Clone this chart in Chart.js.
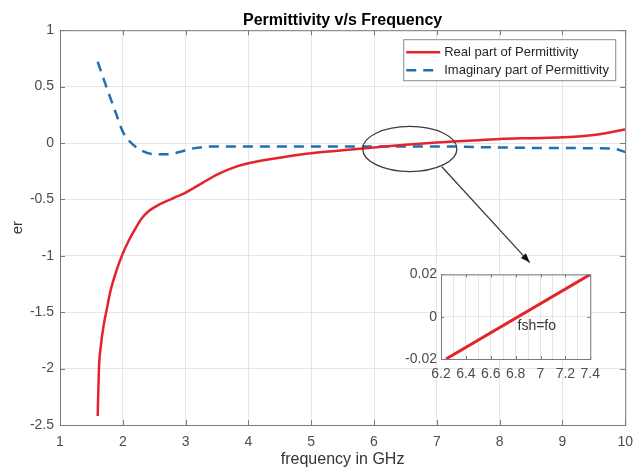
<!DOCTYPE html>
<html>
<head>
<meta charset="utf-8">
<script src="https://cdn.jsdelivr.net/npm/chart.js@4/dist/chart.umd.min.js"></script>
<style>
  html, body { margin:0; padding:0; background:#fff; }
  #wrap { position:relative; width:633px; height:469px; }
  #main { position:absolute; left:0; top:0; }
  #inset { position:absolute; left:385px; top:262px; }
</style>
</head>
<body>
<div id="wrap">
  <canvas id="main" width="633" height="469"></canvas>
  <canvas id="inset" width="215" height="125"></canvas>
</div>
<script>
// data
const realFreq = [1.6, 1.62, 1.65, 1.7, 1.75, 1.8, 1.9, 2.0, 2.1, 2.2, 2.3, 2.4, 2.6, 2.8, 3.0, 3.25, 3.5, 3.75, 4.0, 4.5, 5.0, 5.5, 6.0, 6.5, 7.0, 7.5, 8.0, 8.5, 9.0, 9.5, 10.0];
const realVals = [-2.42, -2.0, -1.8, -1.6, -1.46, -1.32, -1.13, -0.98, -0.86, -0.76, -0.67, -0.61, -0.54, -0.49, -0.44, -0.36, -0.28, -0.22, -0.18, -0.13, -0.09, -0.065, -0.04, -0.015, 0.005, 0.02, 0.035, 0.043, 0.05, 0.07, 0.12];
const imagFreq = [1.6, 1.75, 1.88, 2.0, 2.1, 2.25, 2.5, 2.7, 2.9, 3.1, 3.5, 4.0, 5.0, 6.0, 7.0, 8.0, 9.0, 9.8, 10.0];
const imagVals = [0.72, 0.48, 0.28, 0.1, 0.02, -0.05, -0.1, -0.1, -0.08, -0.05, -0.03, -0.03, -0.03, -0.03, -0.03, -0.04, -0.045, -0.05, -0.08];
const insetFreq = [6.24, 7.4];
const insetVals = [-0.02, 0.02];
const seriesNames = ['Real part of Permittivity', 'Imaginary part of Permittivity'];

const FONT = '"Liberation Sans", Arial, sans-serif';
const RED = '#e3242b', BLUE = '#1f6fb5';
const toXY = (xs, ys) => xs.map((x, i) => ({ x, y: ys[i] }));

// axes box with small inward ticks (matlab look)
function drawBox(c, len){
  const {ctx, chartArea:a, scales:{x, y}} = c;
  ctx.save();
  ctx.strokeStyle = '#7a7a7a'; ctx.lineWidth = 1;
  ctx.strokeRect(a.left + 0.5, a.top + 0.5, a.right - a.left, a.bottom - a.top);
  ctx.beginPath();
  x.ticks.forEach((t, i) => {
    if (!t.label) return;
    const px = Math.round(x.getPixelForTick(i)) + 0.5;
    ctx.moveTo(px, a.bottom); ctx.lineTo(px, a.bottom - len);
    ctx.moveTo(px, a.top); ctx.lineTo(px, a.top + len);
  });
  y.ticks.forEach((t, i) => {
    const py = Math.round(y.getPixelForTick(i)) + 0.5;
    ctx.moveTo(a.left, py); ctx.lineTo(a.left + len, py);
    ctx.moveTo(a.right, py); ctx.lineTo(a.right - len, py);
  });
  ctx.stroke();
  ctx.restore();
}

// legend, ellipse + arrow on the main axes
const mainDeco = {
  id: 'mainDeco',
  beforeDraw(c){
    const ctx = c.ctx;
    ctx.save(); ctx.fillStyle = '#fff'; ctx.fillRect(0, 0, c.width, c.height); ctx.restore();
  },
  afterDraw(c){
    const {ctx, chartArea:a, scales:{x, y}} = c;
    drawBox(c, 5);
    ctx.save();

    // ellipse around the crossing
    const cx = x.getPixelForValue(6.57), cy = y.getPixelForValue(-0.053);
    const rx = x.getPixelForValue(6.57 + 0.75) - cx, ry = y.getPixelForValue(-0.053 - 0.2) - cy;
    ctx.strokeStyle = '#3c3c3c'; ctx.lineWidth = 1.3;
    ctx.beginPath(); ctx.ellipse(cx, cy, rx, ry, 0, 0, Math.PI * 2); ctx.stroke();

    // arrow to the inset
    const x0 = x.getPixelForValue(7.08), y0 = y.getPixelForValue(-0.21);
    const x1 = x.getPixelForValue(8.48), y1 = y.getPixelForValue(-1.06);
    ctx.beginPath(); ctx.moveTo(x0, y0); ctx.lineTo(x1, y1); ctx.stroke();
    const ang = Math.atan2(y1 - y0, x1 - x0);
    ctx.fillStyle = '#111';
    ctx.beginPath();
    ctx.moveTo(x1, y1);
    ctx.lineTo(x1 - 10 * Math.cos(ang - 0.35), y1 - 10 * Math.sin(ang - 0.35));
    ctx.lineTo(x1 - 10 * Math.cos(ang + 0.35), y1 - 10 * Math.sin(ang + 0.35));
    ctx.closePath(); ctx.fill();

    // legend
    const lw = 212, lh = 41, lx = a.right - lw - 10, ly = a.top + 9;
    ctx.fillStyle = '#fff'; ctx.fillRect(lx, ly, lw, lh);
    ctx.strokeStyle = '#8a8a8a'; ctx.lineWidth = 1;
    ctx.strokeRect(lx + 0.5, ly + 0.5, lw, lh);
    ctx.font = '13px ' + FONT; ctx.fillStyle = '#262626'; ctx.textBaseline = 'middle';
    c.data.datasets.forEach((ds, i) => {
      const ry2 = ly + 13 + i * 18;
      ctx.strokeStyle = ds.borderColor; ctx.lineWidth = 2.5;
      ctx.setLineDash(ds.borderDash || []);
      ctx.beginPath(); ctx.moveTo(lx + 3, ry2); ctx.lineTo(lx + 37, ry2); ctx.stroke();
      ctx.setLineDash([]);
      ctx.fillText(seriesNames[i], lx + 41, ry2);
    });
    ctx.restore();
  }
};

new Chart(document.getElementById('main'), {
  type: 'line',
  data: {
    datasets: [
      { label: seriesNames[0], data: toXY(realFreq, realVals), borderColor: RED, borderWidth: 2.5, pointRadius: 0, tension: 0.4, cubicInterpolationMode: 'monotone' },
      { label: seriesNames[1], data: toXY(imagFreq, imagVals), borderColor: BLUE, borderWidth: 2.5, borderDash: [10, 7], pointRadius: 0, tension: 0.4, cubicInterpolationMode: 'monotone' }
    ]
  },
  options: {
    responsive: false, animation: false, devicePixelRatio: 1,
    layout: { padding: { left: 0, right: 0, top: 0, bottom: 0 } },
    plugins: {
      legend: { display: false }, tooltip: { enabled: false },
      title: { display: true, fullSize: false, text: 'Permittivity v/s Frequency', color: '#000',
               font: { family: FONT, size: 16, weight: 'bold' }, padding: { top: 11, bottom: 0 } }
    },
    scales: {
      x: {
        type: 'linear', min: 1, max: 10,
        ticks: { stepSize: 1, color: '#4d4d4d', padding: 0, maxRotation: 0, font: { family: FONT, size: 14 } },
        grid: { color: '#e6e6e6', drawTicks: true, tickLength: 9, tickColor: 'rgba(0,0,0,0)' },
        border: { display: false },
        title: { display: true, text: 'frequency in GHz', color: '#333', font: { family: FONT, size: 16 }, padding: { top: 0, bottom: 0 } },
        afterFit: s => { s.height = 44; }
      },
      y: {
        min: -2.5, max: 1,
        ticks: { stepSize: 0.5, color: '#4d4d4d', padding: 6, font: { family: FONT, size: 14 },
                 callback: v => String(Math.round(v * 10) / 10) },
        grid: { color: '#e6e6e6', drawTicks: false },
        border: { display: false },
        title: { display: true, text: 'er', color: '#333', font: { family: FONT, size: 15 }, padding: { top: 9, bottom: 0 } },
        afterFit: s => { s.width = 60; }
      }
    }
  },
  plugins: [mainDeco]
});

// inset: zoom on the zero crossing
const insetDeco = {
  id: 'insetDeco',
  beforeDraw(c){
    const {ctx, chartArea:a} = c;
    ctx.save(); ctx.fillStyle = '#fff'; ctx.fillRect(a.left, a.top, a.right - a.left, a.bottom - a.top); ctx.restore();
  },
  afterDraw(c){
    const {ctx, scales:{x, y}} = c;
    drawBox(c, 3);
    ctx.save();
    ctx.font = '14px ' + FONT; ctx.fillStyle = '#333'; ctx.textAlign = 'center'; ctx.textBaseline = 'middle';
    ctx.fillText('fsh=fo', x.getPixelForValue(6.97), y.getPixelForValue(-0.0045));
    ctx.restore();
  }
};

new Chart(document.getElementById('inset'), {
  type: 'line',
  data: { datasets: [ { data: toXY(insetFreq, insetVals), borderColor: RED, borderWidth: 3, pointRadius: 0 } ] },
  options: {
    responsive: false, animation: false, devicePixelRatio: 1,
    layout: { padding: { left: 0, right: 0, top: 9, bottom: 0 } },
    plugins: { legend: { display: false }, tooltip: { enabled: false } },
    scales: {
      x: {
        type: 'linear', min: 6.2, max: 7.4,
        ticks: { stepSize: 0.1, autoSkip: false, maxRotation: 0, color: '#4d4d4d', padding: 0, font: { family: FONT, size: 14 },
                 callback: v => { const k = Math.round(v * 10); return k % 2 === 0 ? String(k / 10) : ''; } },
        grid: { color: '#e6e6e6', drawTicks: true, tickLength: 7, tickColor: 'rgba(0,0,0,0)' },
        border: { display: false },
        afterFit: s => { s.height = 28; }
      },
      y: {
        min: -0.02, max: 0.02,
        ticks: { stepSize: 0.02, color: '#4d4d4d', padding: 4, font: { family: FONT, size: 14 },
                 callback: v => String(Math.round(v * 100) / 100) },
        grid: { color: '#e6e6e6', drawTicks: false },
        border: { display: false },
        afterFit: s => { s.width = 56; }
      }
    }
  },
  plugins: [insetDeco]
});
</script>
</body>
</html>
